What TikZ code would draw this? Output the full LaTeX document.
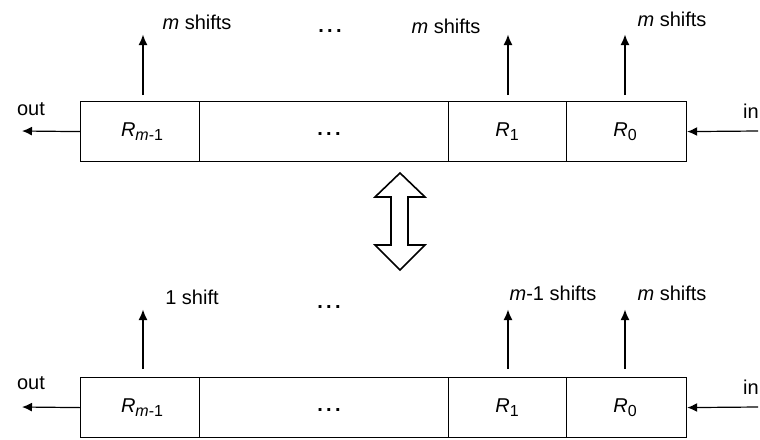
\documentclass[tikz,border=0pt]{standalone}
\usepackage{fontspec}
\setmainfont{Liberation Sans}
\usetikzlibrary{arrows.meta}
\begin{document}
\begin{tikzpicture}[x=1pt,y=-1pt,
  cell/.style={draw,line width=1.2pt,rectangle,minimum height=60pt,inner sep=0pt,anchor=north west},
  lbl/.style={inner sep=0pt,font=\fontsize{20}{22}\selectfont},
  dots/.style={inner sep=0pt,anchor=base,font=\fontsize{20}{22}\selectfont\bfseries},
  thick arrow/.style={line width=2.2pt,-{Latex[length=11pt,width=9pt]}},
  thin arrow/.style={line width=1.2pt,-{Latex[length=10pt,width=9pt]}},
  dbl/.style={draw,line width=1.6pt,line join=miter,fill=white}]
\useasboundingbox (0,0) rectangle (760,439);
\newcommand{\sbx}[1]{\raisebox{-4pt}{\fontsize{16}{18}\selectfont #1}}
\newcommand{\Rm}{\textit{R}\sbx{\textit{m}-1}}
% ---------- top register ----------
\node[cell,minimum width=119pt] (a1) at (80,101) {};
\node[cell,minimum width=249pt] (a2) at (199,101) {};
\node[cell,minimum width=118pt] (a3) at (448,101) {};
\node[cell,minimum width=120pt] (a4) at (566,101) {};
\node[lbl] (ta1) at (142,132) {\Rm};
\node[dots] (td) at (329,135) {.\,.\,.};
\node[lbl] (ta3) at (507,132) {\textit{R}\sbx{1}};
\node[lbl] (ta4) at (625,132) {\textit{R}\sbx{0}};
\coordinate (p1) at (143,34);
\coordinate (p3) at (508,34);
\coordinate (p4) at (625,34);
\draw[thick arrow] (a1.north -| p1) ++(0,-6) -- (p1);
\draw[thick arrow] (a3.north -| p3) ++(0,-6) -- (p3);
\draw[thick arrow] (a4.north -| p4) ++(0,-6) -- (p4);
\node[lbl] (l1) at (197,22) {\textit{m} shifts};
\node[dots] (tdots) at (330,32) {.\,.\,.};
\node[lbl] (l3) at (446,26) {\textit{m} shifts};
\node[lbl] (l4) at (672,19) {\textit{m} shifts};
\coordinate (o1) at (22,131);
\coordinate (i1) at (758,131);
\draw[thin arrow] (a1.west) -- (o1);
\draw[thin arrow] (i1) -- (a4.east);
\node[lbl] (out1) at (31,109) {out};
\node[lbl,anchor=east] (in1) at (759,111) {in};
% ---------- double arrow ----------
\draw[dbl] (400,173) -- (425,197) -- (408,197) -- (408,245) -- (425,245) -- (400,270)
  -- (375,245) -- (391,245) -- (391,197) -- (375,197) -- cycle;
% ---------- bottom register ----------
\node[cell,minimum width=119pt] (b1) at (80,377) {};
\node[cell,minimum width=249pt] (b2) at (199,377) {};
\node[cell,minimum width=118pt] (b3) at (448,377) {};
\node[cell,minimum width=120pt] (b4) at (566,377) {};
\node[lbl] (tb1) at (142,408) {\Rm};
\node[dots] (bd) at (329,411) {.\,.\,.};
\node[lbl] (tb3) at (507,408) {\textit{R}\sbx{1}};
\node[lbl] (tb4) at (625,408) {\textit{R}\sbx{0}};
\coordinate (q1) at (143,309);
\coordinate (q3) at (508,309);
\coordinate (q4) at (625,309);
\draw[thick arrow] (b1.north -| q1) ++(0,-8) -- (q1);
\draw[thick arrow] (b3.north -| q3) ++(0,-8) -- (q3);
\draw[thick arrow] (b4.north -| q4) ++(0,-8) -- (q4);
\node[lbl] (m1) at (192,297) {1 shift};
\node[dots] (bdots) at (329,308) {.\,.\,.};
\node[lbl] (m3) at (553,293) {\textit{m}-1 shifts};
\node[lbl] (m4) at (672,293) {\textit{m} shifts};
\coordinate (o2) at (22,407);
\coordinate (i2) at (758,407);
\draw[thin arrow] (b1.west) -- (o2);
\draw[thin arrow] (i2) -- (b4.east);
\node[lbl] (out2) at (31,383) {out};
\node[lbl,anchor=east] (in2) at (759,387) {in};
\end{tikzpicture}
\end{document}
